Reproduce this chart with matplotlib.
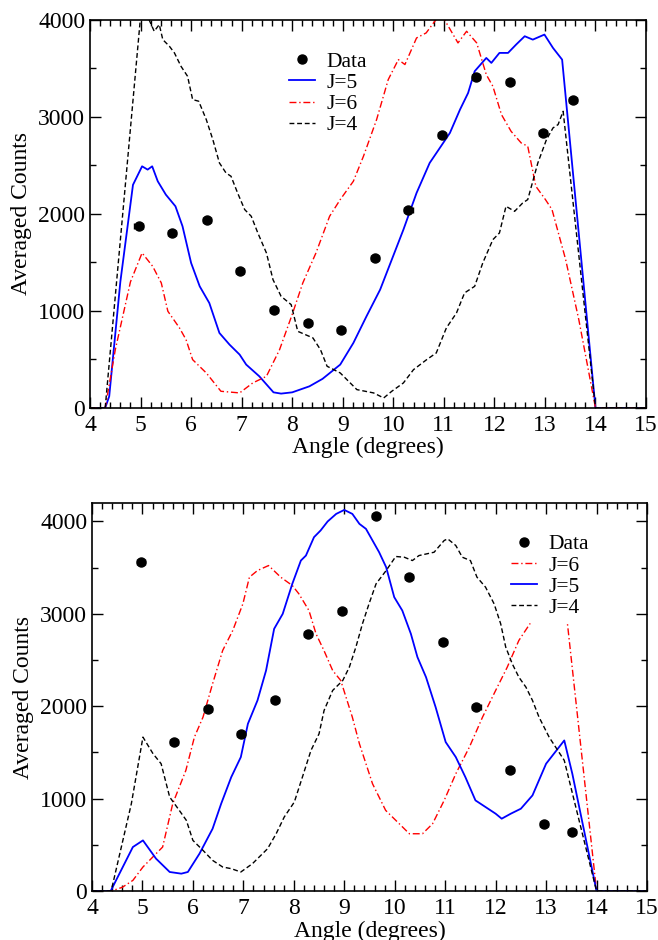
import numpy as np
import matplotlib.pyplot as plt

# ---- top panel ----
data_x_top = [4.96, 5.63, 6.31, 6.97, 7.64, 8.32, 8.97, 9.64, 10.30, 10.97, 11.63, 12.30, 12.96, 13.55]
data_y_top = [1879, 1807, 1938, 1416, 1014, 873, 807, 1546, 2041, 2818, 3416, 3364, 2835, 3175]

j5_x_top = [4.0, 4.3, 4.38, 4.6, 4.85, 5.03, 5.14, 5.23, 5.34, 5.5, 5.69, 5.83, 6.0, 6.17, 6.36, 6.56,
            6.76, 6.96, 7.09, 7.35, 7.63, 7.78, 8.0, 8.34, 8.6, 8.95, 9.21, 9.47, 9.74, 9.97, 10.2,
            10.46, 10.72, 10.92, 11.12, 11.32, 11.48, 11.61, 11.84, 11.94, 12.1, 12.27, 12.43, 12.6,
            12.76, 12.99, 13.16, 13.34, 14.0, 15.0]
j5_y_top = [0, 0, 120, 1300, 2300, 2491, 2457, 2491, 2337, 2199, 2079, 1873, 1495, 1254, 1082, 773,
            653, 550, 447, 326, 161, 148, 161, 223, 300, 447, 670, 945, 1220, 1529, 1838,
            2216, 2526, 2680, 2835, 3076, 3247, 3471, 3608, 3557, 3660, 3660, 3746, 3832,
            3797, 3849, 3711, 3591, 0, 0]

j6_x_top = [4.0, 4.3, 4.5, 4.8, 5.03, 5.24, 5.41, 5.54, 5.77, 5.9, 6.03, 6.3, 6.59, 6.96, 7.22, 7.49,
            7.75, 8.01, 8.21, 8.47, 8.74, 8.95, 9.21, 9.41, 9.67, 9.9, 10.1, 10.23, 10.46, 10.65,
            10.82, 10.95, 11.05, 11.28, 11.45, 11.65, 11.84, 11.97, 12.14, 12.33, 12.53, 12.66,
            12.82, 13.01, 13.14, 13.41, 13.67, 13.87, 14.0, 15.0]
j6_y_top = [0, 0, 600, 1300, 1598, 1460, 1289, 997, 825, 704, 498, 361, 172, 155, 258, 326,
            601, 979, 1289, 1598, 1976, 2148, 2337, 2595, 2973, 3385, 3591, 3540, 3814, 3866,
            3986, 4060, 3969, 3763, 3883, 3763, 3436, 3316, 3024, 2852, 2732, 2698,
            2285, 2148, 2045, 1529, 911, 361, 0, 0]

j4_x_top = [4.0, 4.3, 5.02, 5.17, 5.27, 5.37, 5.44, 5.57, 5.67, 5.8, 5.93, 6.03, 6.15, 6.3, 6.43, 6.56,
            6.69, 6.79, 6.92, 7.06, 7.19, 7.32, 7.49, 7.62, 7.78, 7.98, 8.11, 8.41, 8.56, 8.69, 8.95,
            9.28, 9.61, 9.81, 9.97, 10.2, 10.4, 10.66, 10.85, 11.05, 11.25, 11.41, 11.61, 11.77,
            11.97, 12.1, 12.23, 12.4, 12.56, 12.66, 12.86, 13.03, 13.16, 13.26, 13.36, 14.0, 15.0]
j4_y_top = [0, 0, 4150, 4000, 3883, 3952, 3797, 3729, 3660, 3522, 3419, 3179, 3162, 2973, 2766, 2526,
            2423, 2388, 2216, 2045, 1976, 1804, 1598, 1323, 1151, 1065, 790, 722, 600, 430, 361,
            189, 155, 103, 172, 258, 395, 498, 567, 825, 979, 1186, 1254, 1495,
            1735, 1804, 2079, 2027, 2113, 2148, 2526, 2766, 2887, 2921, 3058, 0, 0]

# ---- bottom panel ----
data_x_bot = [4.97, 5.63, 6.30, 6.96, 7.63, 8.29, 8.95, 9.63, 10.29, 10.96, 11.62, 12.28, 12.96, 13.52]
data_y_bot = [3556, 1612, 1973, 1702, 2070, 2777, 3036, 4064, 3404, 2694, 1991, 1313, 721, 638]

j6_x_bot = [4.0, 4.38, 4.6, 4.81, 5.01, 5.4, 5.6, 5.86, 6.03, 6.2, 6.39, 6.59, 6.79, 6.99, 7.12, 7.28,
            7.5, 7.74, 7.97, 8.1, 8.3, 8.44, 8.6, 8.77, 8.93, 9.16, 9.3, 9.56, 9.82, 10.09, 10.29,
            10.55, 10.75, 10.98, 11.21, 11.48, 11.74, 12.0, 12.23, 12.46, 12.7, 13.0, 13.35, 14.0, 15.0]
j6_y_bot = [0, 0, 40, 115, 260, 476, 945, 1305, 1666, 1882, 2243, 2604, 2820, 3108, 3397, 3469,
            3523, 3397, 3307, 3217, 3036, 2784, 2600, 2387, 2279, 1882, 1594, 1161, 873, 728, 620,
            620, 728, 981, 1269, 1558, 1882, 2171, 2423, 2712, 2910, 3080, 3260, 0, 0]

j5_x_bot = [4.0, 4.37, 4.81, 5.01, 5.27, 5.54, 5.77, 5.9, 6.13, 6.39, 6.56, 6.76, 6.95, 7.09, 7.28,
            7.45, 7.61, 7.78, 7.97, 8.14, 8.24, 8.4, 8.53, 8.67, 8.84, 9.0, 9.16, 9.3, 9.43, 9.56,
            9.69, 9.83, 9.99, 10.15, 10.32, 10.45, 10.62, 10.81, 11.01, 11.21, 11.4, 11.6, 11.8,
            12.0, 12.12, 12.3, 12.5, 12.73, 13.0, 13.36, 13.52, 14.0, 15.0]
j5_y_bot = [0, 0, 476, 548, 350, 206, 188, 206, 404, 674, 945, 1233, 1450, 1810, 2063,
            2387, 2838, 3000, 3325, 3577, 3631, 3830, 3902, 4000, 4082, 4125, 4082, 3974, 3920, 3794,
            3668, 3505, 3181, 3036, 2784, 2532, 2315, 1991, 1612, 1450, 1233, 981, 909,
            837, 783, 837, 891, 1035, 1378, 1630, 1269, 0, 0]

j4_x_bot = [4.0, 4.38, 4.78, 5.01, 5.21, 5.37, 5.54, 5.73, 5.87, 6.0, 6.2, 6.39, 6.59, 6.76, 6.95,
            7.18, 7.48, 7.65, 7.81, 8.01, 8.17, 8.34, 8.5, 8.6, 8.77, 8.97, 9.1, 9.23, 9.36, 9.49,
            9.63, 9.83, 10.02, 10.19, 10.35, 10.48, 10.78, 10.98, 11.05, 11.21, 11.34, 11.5, 11.63,
            11.8, 11.97, 12.1, 12.2, 12.33, 12.46, 12.6, 12.73, 12.86, 13.06, 13.36, 14.0, 15.0]
j4_y_bot = [0, 0, 945, 1666, 1486, 1378, 1017, 873, 765, 548, 440, 332, 260, 242, 206,
            296, 458, 620, 801, 963, 1233, 1522, 1702, 1955, 2171, 2279, 2423, 2640, 2892, 3108,
            3325, 3469, 3621, 3613, 3577, 3631, 3667, 3794, 3812, 3740, 3613, 3577, 3397,
            3289, 3108, 2892, 2640, 2459, 2315, 2207, 2063, 1882, 1666, 1414, 0, 0]

plt.rcParams['font.family'] = 'serif'
plt.rcParams['font.serif'] = ['Liberation Serif', 'DejaVu Serif']

red_style = (0, (5, 2, 1, 2))
blk_style = (0, (3.5, 2))


def style_axes(ax, ymax):
    ax.set_xlim(4, 15)
    ax.set_ylim(0, ymax)
    ax.set_xticks(range(4, 16))
    ax.set_xticks(np.arange(4, 15.01, 0.2), minor=True)
    ax.set_yticks([0, 1000, 2000, 3000, 4000])
    ax.set_yticks(np.arange(0, ymax + 1, 500), minor=True)
    ax.tick_params(which='both', direction='in', top=True, right=True, labelsize=17, width=1)
    ax.tick_params(which='major', length=8)
    ax.tick_params(which='minor', length=4)
    ax.tick_params(axis='x', pad=5)
    ax.set_xlabel('Angle (degrees)', fontsize=17, labelpad=1)
    ax.set_ylabel('Averaged Counts', fontsize=17, labelpad=4)
    for s in ax.spines.values():
        s.set_linewidth(1.2)


def draw_data(ax, xs, ys):
    ax.errorbar(xs, ys, xerr=0.08, fmt='o', color='black', ms=6.5,
                elinewidth=1, capsize=2, zorder=5)
    # legend entry shows only the dot
    ax.plot([], [], 'o', color='black', ms=6.5, label='Data')


def ordered_legend(ax, order, **kw):
    h, l = ax.get_legend_handles_labels()
    d = dict(zip(l, h))
    return ax.legend([d[k] for k in order], order, fontsize=15.5, handlelength=1.25,
                     handletextpad=0.5, labelspacing=0.05, borderpad=0.2, **kw)


fig = plt.figure(figsize=(6.58, 9.4), dpi=100)

ax1 = fig.add_axes([0.1368, 0.566, 0.845, 0.4128])
draw_data(ax1, data_x_top, data_y_top)
ax1.plot(j5_x_top, j5_y_top, color='blue', lw=1.3, label='J=5')
ax1.plot(j6_x_top, j6_y_top, color='red', lw=1.0, ls=red_style, label='J=6')
ax1.plot(j4_x_top, j4_y_top, color='black', lw=1.0, ls=blk_style, label='J=4')
style_axes(ax1, 4000)
ordered_legend(ax1, ['Data', 'J=5', 'J=6', 'J=4'], loc='upper left', bbox_to_anchor=(0.33, 0.957),
               frameon=False)

ax2 = fig.add_axes([0.1398, 0.0521, 0.8435, 0.4128])
draw_data(ax2, data_x_bot, data_y_bot)
ax2.plot(j6_x_bot, j6_y_bot, color='red', lw=1.0, ls=red_style, label='J=6')
ax2.plot(j5_x_bot, j5_y_bot, color='blue', lw=1.3, label='J=5')
ax2.plot(j4_x_bot, j4_y_bot, color='black', lw=1.0, ls=blk_style, label='J=4')
style_axes(ax2, 4200)
leg2 = ordered_legend(ax2, ['Data', 'J=6', 'J=5', 'J=4'], loc='upper left',
                      bbox_to_anchor=(0.727, 0.958), frameon=True,
                      edgecolor='white', fancybox=False, framealpha=1)
leg2.set_zorder(10)

plt.savefig('out.png', dpi=100)
